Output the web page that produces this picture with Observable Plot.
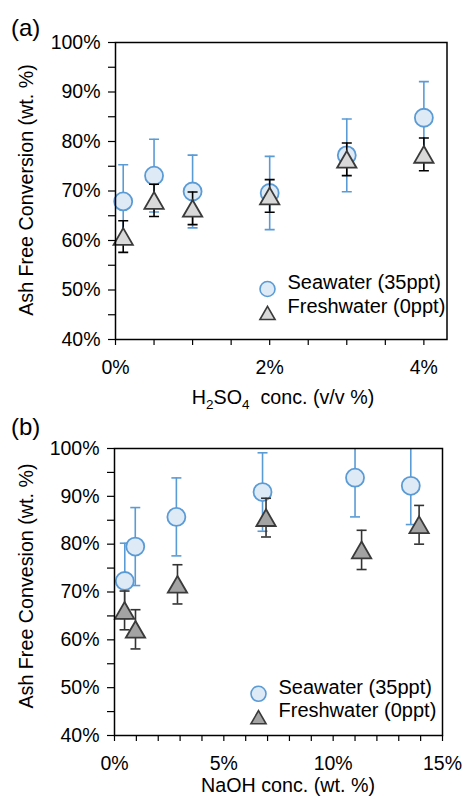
<!DOCTYPE html>
<html><head><meta charset="utf-8">
<script src="https://cdn.jsdelivr.net/npm/d3@7"></script>
<script src="https://cdn.jsdelivr.net/npm/@observablehq/plot@0.6"></script>
<style>
body{margin:0;background:#fff;font-family:"Liberation Sans",Arial,Helvetica,sans-serif;}
#chart{width:465px;height:797px;overflow:hidden;background:#fff}
svg{display:block}
</style></head><body><div id="chart"></div>
<script>
// ---------- Data ----------
// Panel (a): H2SO4 concentration (v/v %)
const acidConc = [0.1, 0.5, 1, 2, 3, 4];
const acidSea = [67.9, 73.1, 69.9, 69.6, 77.2, 84.8];
const acidSeaErr = [7.4, 7.35, 7.35, 7.4, 7.35, 7.3];
const acidFresh = [60.8, 68.1, 66.5, 69.0, 76.4, 77.4];
const acidFreshErr = [3.2, 3.25, 3.3, 3.3, 3.3, 3.3];
// Panel (b): NaOH concentration (wt. %)
const baseConcSea = [0.47, 0.95, 2.83, 6.77, 11.0, 13.55];
const baseSea = [72.3, 79.5, 85.7, 90.9, 93.9, 92.2];
const baseSeaErr = [7.9, 8.15, 8.15, 8.2, 8.2, 8.1];
const baseConcFresh = [0.46, 0.96, 2.88, 6.93, 11.3, 13.93];
const baseFresh = [66.15, 62.2, 71.6, 85.55, 78.8, 84.05];
const baseFreshErr = [4.05, 4.1, 4.1, 4.05, 4.1, 4.05];
// Ticks and labels
const yTicks = [40, 45, 50, 55, 60, 65, 70, 75, 80, 85, 90, 95, 100];
const yLabelTicks = [40, 50, 60, 70, 80, 90, 100];
const xTicksA = [0, 0.5, 1, 1.5, 2, 2.5, 3, 3.5, 4];
const xLabelTicksA = [0, 2, 4];
const xTicksB = [0,1,2,3,4,5,6,7,8,9,10,11,12,13,14,15];
const xLabelTicksB = [0, 5, 10, 15];
const seriesNames = ["Seawater (35ppt)", "Freshwater (0ppt)"];
const yTitleA = "Ash Free Conversion (wt. %)";
const yTitleB = "Ash Free Convesion (wt. %)";
const xTitleB = "NaOH conc. (wt. %)";

// ---------- Drawing ----------
const FONT = "'Liberation Sans', Arial, Helvetica, sans-serif";
const blue = "#5b9bd5", blueFill = "#deeaf6";
const capSym = {draw(ctx, size){const w = Math.sqrt(size/Math.PI); ctx.moveTo(-w,0); ctx.lineTo(w,0);}};
const triSym = {draw(ctx, size){const r = Math.sqrt(size/Math.PI); const w = 1.05*r, h = 0.91*r;
  ctx.moveTo(0,-h); ctx.lineTo(w,h); ctx.lineTo(-w,h); ctx.closePath();}};
const rows = (xs, ys, es) => xs.map((x, i) => ({x, y: ys[i], e: es[i]}));

function errorMarks(data, color) {
  return [
    Plot.ruleX(data, {x: "x", y1: d => d.y - d.e, y2: d => d.y + d.e, stroke: color, strokeWidth: 1.6, clip: true}),
    Plot.dot(data, {x: "x", y: d => d.y + d.e, symbol: capSym, r: 5, fill: "none", stroke: color, strokeWidth: 1.6, clip: true}),
    Plot.dot(data, {x: "x", y: d => d.y - d.e, symbol: capSym, r: 5, fill: "none", stroke: color, strokeWidth: 1.6, clip: true})
  ];
}

function panel(o) {
  return Plot.plot({
    width: 465, height: o.height,
    marginTop: o.mt, marginBottom: o.mb, marginLeft: o.ml, marginRight: o.mr,
    x: {domain: o.xDomain},
    y: {domain: [40, 100]},
    style: {fontFamily: FONT, fontSize: "19px", color: "black", background: "white", overflow: "visible"},
    marks: [
      Plot.axisY(yTicks, {tickSize: 7, tickPadding: 8, strokeWidth: 1.2, fontSize: 19.5, label: null,
        tickFormat: d => yLabelTicks.includes(d) ? d + "%" : ""}),
      Plot.axisX(o.xTicks, {tickSize: 6, tickPadding: 15, strokeWidth: 1.2, fontSize: 19.5, label: null,
        tickFormat: d => o.xLabelTicks.includes(d) ? d + "%" : ""}),
      ...errorMarks(o.sea, blue),
      Plot.dot(o.sea, {x: "x", y: "y", r: 9, fill: blueFill, stroke: blue, strokeWidth: 1.8}),
      ...errorMarks(o.fresh, o.barColor),
      Plot.dot(o.fresh, {x: "x", y: "y", r: 9.2, symbol: triSym, fill: o.triFill, stroke: "#3a3a3a", strokeWidth: 1.8}),
      Plot.frame({stroke: "black", strokeWidth: 1.5}),
      // legend
      Plot.dot([seriesNames[0]], {frameAnchor: "bottom-left", dx: o.lg.dx, dy: o.lg.dyS, r: 7.5, fill: blueFill, stroke: blue, strokeWidth: 1.6}),
      Plot.dot([seriesNames[1]], {frameAnchor: "bottom-left", dx: o.lg.dx, dy: o.lg.dyF, r: 7.2, symbol: triSym, fill: o.triFill, stroke: "#3a3a3a", strokeWidth: 1.6}),
      Plot.text([seriesNames[0]], {text: d => d, frameAnchor: "bottom-left", textAnchor: "start", dx: o.lg.tdx, dy: o.lg.dyS, fontSize: 20, fill: "black"}),
      Plot.text([seriesNames[1]], {text: d => d, frameAnchor: "bottom-left", textAnchor: "start", dx: o.lg.tdx, dy: o.lg.dyF, fontSize: 20, fill: "black"})
    ]
  });
}

const svgA = panel({
  height: 410, mt: 42, mb: 71, ml: 115, mr: 18.5,
  xDomain: [0, 4.3], xTicks: xTicksA, xLabelTicks: xLabelTicksA,
  sea: rows(acidConc, acidSea, acidSeaErr), fresh: rows(acidConc, acidFresh, acidFreshErr),
  triFill: "#d9d9d9", barColor: "#000000",
  lg: {dx: 152, dyS: -50.5, dyF: -26.5, tdx: 172}
});
const svgB = panel({
  height: 387, mt: 38, mb: 62, ml: 114, mr: 23,
  xDomain: [0, 15], xTicks: xTicksB, xLabelTicks: xLabelTicksB,
  sea: rows(baseConcSea, baseSea, baseSeaErr), fresh: rows(baseConcFresh, baseFresh, baseFreshErr),
  triFill: "#a3a3a3", barColor: "#333333",
  lg: {dx: 144, dyS: -41.7, dyF: -18.3, tdx: 164}
});
const chart = document.getElementById("chart");
chart.appendChild(svgA);
chart.appendChild(svgB);

function addText(svg, attrs, txt) {
  const t = d3.select(svg).append("text").attr("font-family", FONT).attr("fill", "black");
  for (const k in attrs) t.attr(k, attrs[k]);
  if (txt != null) t.text(txt);
  return t;
}
// panel letters
addText(svgA, {x: 11, y: 36, "font-size": 24, "text-anchor": "start"}, "(a)");
addText(svgB, {x: 11, y: 25, "font-size": 24, "text-anchor": "start"}, "(b)");
// y titles
addText(svgA, {transform: "translate(33,190) rotate(-90)", "text-anchor": "middle", "font-size": 19.7}, yTitleA);
addText(svgB, {transform: "translate(33,176) rotate(-90)", "text-anchor": "middle", "font-size": 19.7}, yTitleB);
// x title (a) with subscripts
const xt = addText(svgA, {x: 283, y: 404, "text-anchor": "middle", "font-size": 19.7});
xt.append("tspan").text("H");
xt.append("tspan").attr("font-size", 13.5).attr("dy", 5).text("2");
xt.append("tspan").attr("dy", -5).text("SO");
xt.append("tspan").attr("font-size", 13.5).attr("dy", 5).text("4");
xt.append("tspan").attr("dy", -5).text("\u00a0 conc. (v/v %)");
// x title (b)
addText(svgB, {x: 288, y: 382, "text-anchor": "middle", "font-size": 19.7}, xTitleB);
</script></body></html>
